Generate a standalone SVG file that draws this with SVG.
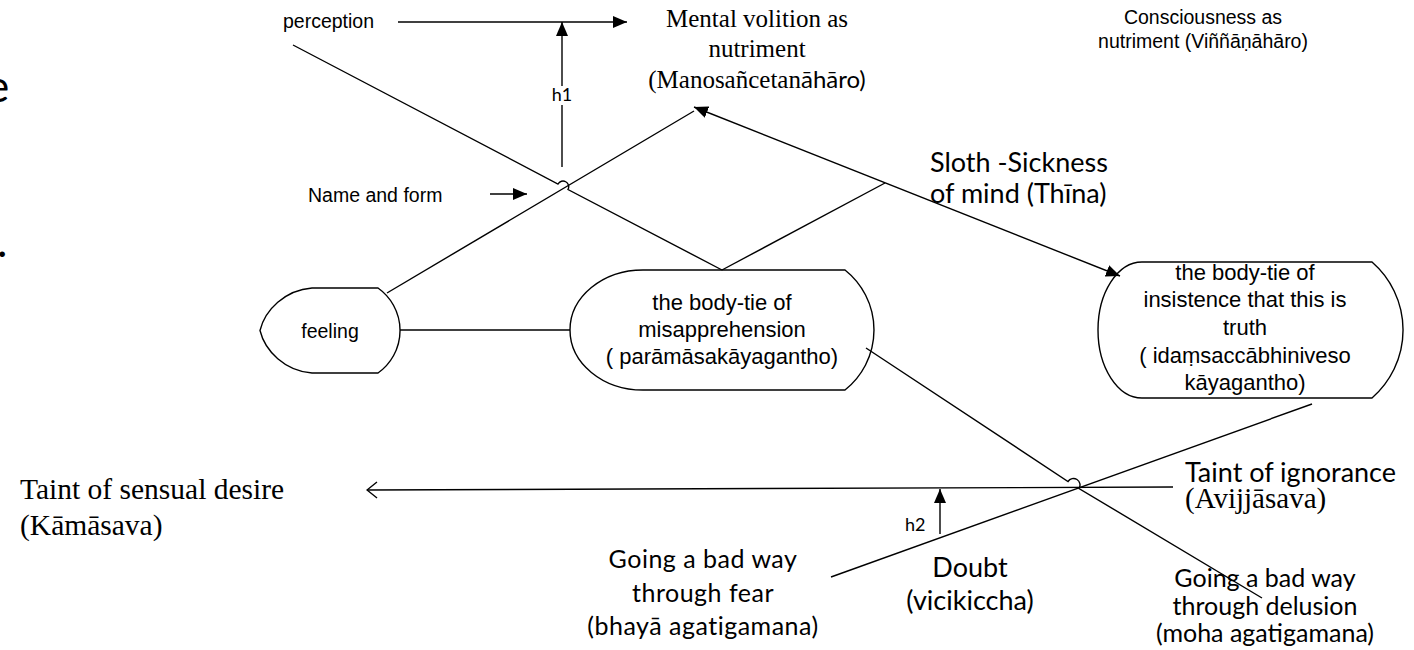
<svg xmlns="http://www.w3.org/2000/svg" width="1414" height="650" viewBox="0 0 1414 650">
<style>
.ln{fill:none;stroke:#000;stroke-width:1.4}
.shape{fill:#fff;stroke:#000;stroke-width:1.4}
.ar{font-family:"Liberation Sans",Arial,sans-serif;fill:#000}
.tm{font-family:"Liberation Serif","Times New Roman",serif;fill:#000}
.cb{font-family:Lato,"Open Sans",sans-serif;fill:#000}
</style>
<defs>
<marker id="fa" markerUnits="userSpaceOnUse" markerWidth="14" markerHeight="14" viewBox="0 0 14 14" refX="14" refY="7" orient="auto-start-reverse">
<path d="M0,1 L14,7 L0,13 Z" fill="#000"/>
</marker>
<marker id="oa" markerUnits="userSpaceOnUse" markerWidth="12" markerHeight="18" viewBox="0 0 12 18" refX="11" refY="9" orient="auto">
<path d="M1,1 L11,9 L1,17" fill="none" stroke="#000" stroke-width="1.4"/>
</marker>
</defs>
<rect width="1414" height="650" fill="#fff"/>
<text class="cb" x="-14" y="102" font-size="44">e</text>
<text class="cb" x="-3" y="257" font-size="44">.</text>
<g id="feeling">
<path class="shape" d="M312,288 L378,288 A52,52 0 0 1 378,373 L312,373 C285,371 265,351 260,330.5 C265,310 285,290 312,288 Z"/>
<text class="ar" x="330" y="338" font-size="19.5" text-anchor="middle">feeling</text>
</g>
<g id="misapprehension">
<path class="shape" d="M643,270 L845,270 A76.6,76.6 0 0 1 845,390 L643,390 A73,60 0 0 1 570,330 A73,60 0 0 1 643,270 Z"/>
<text class="ar" font-size="22" text-anchor="middle"><tspan x="722" y="310">the body-tie of</tspan><tspan x="722" y="337">misapprehension</tspan><tspan x="722" y="364">( parāmāsakāyagantho)</tspan></text>
</g>
<g id="insistence">
<path class="shape" d="M1142,262 L1372,262 A90,90 0 0 1 1372,398 L1142,398 A44,68 0 0 1 1098,330 A44,68 0 0 1 1142,262 Z"/>
<text class="ar" font-size="22" text-anchor="middle"><tspan x="1245" y="280">the body-tie of</tspan><tspan x="1245" y="307">insistence that this is</tspan><tspan x="1245" y="335">truth</tspan><tspan x="1245" y="363">( idaṃsaccābhiniveso</tspan><tspan x="1245" y="390">kāyagantho)</tspan></text>
</g>
<g id="connectors">
<line class="ln" x1="398" y1="22" x2="627" y2="22" marker-end="url(#fa)"/>
<line class="ln" x1="562" y1="167" x2="562" y2="105"/>
<line class="ln" x1="562" y1="86" x2="562" y2="22" marker-end="url(#fa)"/>
<line class="ln" x1="490" y1="194" x2="527" y2="194" marker-end="url(#fa)"/>
<path class="ln" d="M293,45 L558,184 A5.5,5.5 0 0 1 568,189.5 L722,270"/>
<line class="ln" x1="387" y1="293" x2="694" y2="111"/>
<line class="ln" x1="722" y1="270" x2="885" y2="183"/>
<line class="ln" x1="694" y1="107" x2="1120" y2="276" marker-start="url(#fa)" marker-end="url(#fa)"/>
<line class="ln" x1="400" y1="330" x2="570" y2="330"/>
<path class="ln" d="M866,348 L1068,481.5 A6.5,6.5 0 0 1 1079,488.5 L1262,598"/>
<line class="ln" x1="1173" y1="487" x2="367" y2="490" stroke-width="1.8" marker-end="url(#oa)"/>
<line class="ln" x1="831" y1="577" x2="1312" y2="404" stroke-width="3.2"/>
<line class="ln" x1="940" y1="534" x2="940" y2="489" marker-end="url(#fa)"/>
</g>
<g id="perception"><text class="ar" x="283" y="28" font-size="19.5">perception</text></g>
<g id="name-form"><text class="ar" x="308" y="202" font-size="19.5">Name and form</text></g>
<g id="h1"><text class="cb" x="562" y="101" font-size="18" text-anchor="middle">h1</text></g>
<g id="h2"><text class="cb" x="905" y="531" font-size="18">h2</text></g>
<g id="mental-volition">
<text class="tm" font-size="25" text-anchor="middle"><tspan x="757" y="27">Mental volition as</tspan><tspan x="757" y="57">nutriment</tspan><tspan x="757" y="88">(Manosañcetan<tspan class="cb" font-size="24">āhāro)</tspan></tspan></text>
</g>
<g id="consciousness">
<text class="ar" font-size="19.5" text-anchor="middle"><tspan x="1203" y="24">Consciousness as</tspan><tspan x="1203" y="48">nutriment (Viññāṇāhāro)</tspan></text>
</g>
<g id="sloth">
<text class="cb" font-size="27"><tspan x="930" y="172">Sloth -Sickness</tspan><tspan x="930" y="203">of mind (Thīna)</tspan></text>
</g>
<g id="kamasava">
<text class="tm" font-size="29.5"><tspan x="20" y="499">Taint of sensual desire</tspan><tspan x="20" y="535">(Kāmāsava)</tspan></text>
</g>
<g id="avijjasava">
<text class="cb" x="1185" y="482" font-size="27">Taint of ignorance</text>
<text class="tm" x="1185" y="508" font-size="29">(Avijjāsava)</text>
</g>
<g id="doubt">
<text class="cb" font-size="27" text-anchor="middle"><tspan x="970" y="577">Doubt</tspan><tspan x="970" y="610">(vicikiccha)</tspan></text>
</g>
<g id="fear">
<text class="cb" font-size="25" text-anchor="middle" letter-spacing="0.5"><tspan x="703" y="568">Going a bad way</tspan><tspan x="703" y="602">through fear</tspan><tspan x="703" y="635">(bhayā agatigamana)</tspan></text>
</g>
<g id="delusion">
<text class="cb" font-size="25" text-anchor="middle"><tspan x="1265" y="587">Going a bad way</tspan><tspan x="1265" y="615">through delusion</tspan><tspan x="1265" y="642">(moha agatigamana)</tspan></text>
</g>
</svg>
